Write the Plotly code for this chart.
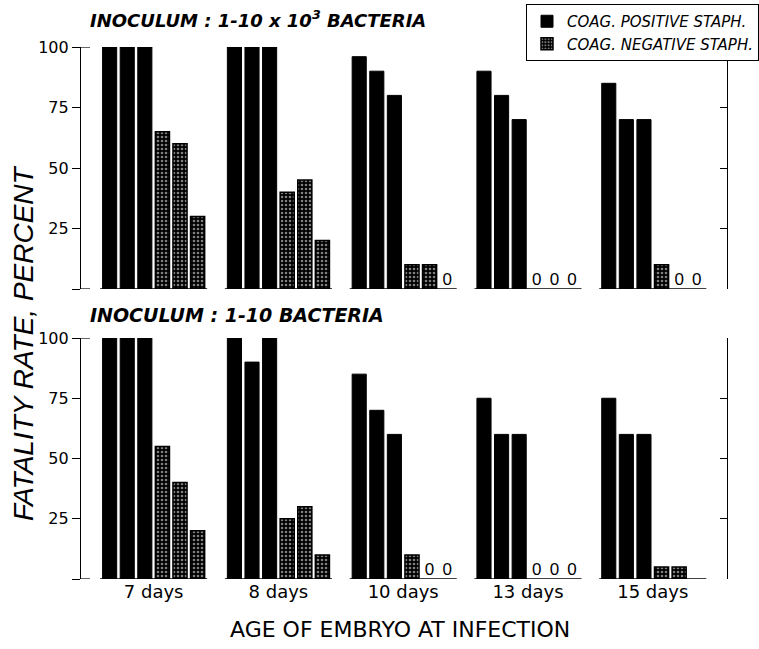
import plotly.graph_objects as go

# ---- data ----
groups = ["7 days", "8 days", "10 days", "13 days", "15 days"]
top_pos = [[100, 100, 100], [100, 100, 100], [96, 90, 80], [90, 80, 70], [85, 70, 70]]
top_neg = [[65, 60, 30], [40, 45, 20], [10, 10, 0], [0, 0, 0], [10, 0, 0]]
bot_pos = [[100, 100, 100], [100, 90, 100], [85, 70, 60], [75, 60, 60], [75, 60, 60]]
bot_neg = [[55, 40, 20], [25, 30, 10], [10, 0, 0], [0, 0, 0], [5, 5, None]]
y_ticks = [0, 25, 50, 75, 100]
y_ticklabels = ["", "25", "50", "75", "100"]
title_top = "INOCULUM : 1-10 x 10<sup>3</sup> BACTERIA"
title_bot = "INOCULUM : 1-10 BACTERIA"
legend_names = ["COAG. POSITIVE STAPH.", "COAG. NEGATIVE STAPH."]
x_title = "AGE OF EMBRYO AT INFECTION"
y_title = "FATALITY RATE, PERCENT"

SLOT = 0.141
BARW = 0.113
FONT = "DejaVu Sans"
FONT2 = "Liberation Sans"

def slot_x(g, j):
    return g + (j - 2.5) * SLOT

fig = go.Figure()

def add_panel(pos, neg, xa, ya, showlegend):
    px, py, nx, ny, zx = [], [], [], [], []
    for g in range(len(groups)):
        for j, v in enumerate(pos[g]):
            px.append(slot_x(g, j)); py.append(v)
        for j, v in enumerate(neg[g]):
            if v is None:
                continue
            if v == 0:
                zx.append(slot_x(g, j + 3))
            else:
                nx.append(slot_x(g, j + 3)); ny.append(v)
    fig.add_trace(go.Bar(x=px, y=py, width=BARW, name=legend_names[0],
                         marker=dict(color="black", line=dict(color="black", width=1)),
                         xaxis=xa, yaxis=ya, showlegend=showlegend, legendgroup="p"))
    fig.add_trace(go.Bar(x=nx, y=ny, width=BARW, name=legend_names[1],
                         marker=dict(color="black", line=dict(color="black", width=1.5),
                                     pattern=dict(shape=".", fgcolor="white", bgcolor="black",
                                                  size=4, solidity=0.35)),
                         xaxis=xa, yaxis=ya, showlegend=showlegend, legendgroup="n"))
    fig.add_trace(go.Scatter(x=zx, y=[0] * len(zx), mode="text", text=["0"] * len(zx),
                             textposition="top center", textfont=dict(family=FONT2, size=17, color="black"),
                             xaxis=xa, yaxis=ya, showlegend=False, cliponaxis=False, hoverinfo="skip"))
    for g in range(len(groups)):
        fig.add_shape(type="line", xref=xa, yref=ya,
                      x0=slot_x(g, 0) - BARW / 2 - 0.02, x1=slot_x(g, 5) + BARW / 2 + 0.02,
                      y0=0, y1=0, line=dict(color="black", width=1.5))

add_panel(top_pos, top_neg, "x", "y", True)
add_panel(bot_pos, bot_neg, "x2", "y2", False)

XR = [-0.59, 4.595]
XD = [80 / 759, 727 / 759]
H = 649
W = 759
top_dom = [1 - 289 / H, 1 - 47 / H]
bot_dom = [1 - 579 / H, 1 - 338 / H]

xcommon = dict(range=XR, domain=XD, showline=False, zeroline=False, showgrid=False,
               automargin=False)
ycommon = dict(range=[0, 100], showgrid=False, zeroline=False, showline=True, linecolor="black",
               linewidth=1.2, ticks="outside", ticklen=8, tickcolor="black", tickwidth=1.2,
               tickvals=y_ticks, ticktext=y_ticklabels, automargin=False,
               tickfont=dict(family=FONT, size=16, color="black"))
rcommon = dict(range=[0, 100], showgrid=False, zeroline=False, showline=True, linecolor="black",
               linewidth=1, ticks="inside", ticklen=7, tickcolor="black", tickvals=y_ticks,
               showticklabels=False, side="right", automargin=False)

fig.update_layout(
    width=W, height=H,
    margin=dict(l=0, r=0, t=0, b=0),
    paper_bgcolor="white", plot_bgcolor="rgba(0,0,0,0)",
    barmode="overlay",
    xaxis=dict(**xcommon, anchor="y", showticklabels=False, ticks=""),
    yaxis=dict(**ycommon, domain=top_dom, anchor="free", position=XD[0]),
    xaxis2=dict(**xcommon, anchor="y2", tickvals=list(range(len(groups))), ticktext=groups,
                ticks="", ticklen=0, tickfont=dict(family=FONT, size=18, color="black")),
    yaxis2=dict(**ycommon, domain=bot_dom, anchor="free", position=XD[0]),
    yaxis3=dict(**rcommon, overlaying="y", anchor="free", position=XD[1]),
    yaxis4=dict(**rcommon, overlaying="y2", anchor="free", position=XD[1]),
    legend=dict(x=1.0, y=1 - 4 / H, xanchor="right", yanchor="top", bordercolor="black", borderwidth=1,
                bgcolor="white", font=dict(family=FONT, size=15, style="italic", color="black"),
                tracegroupgap=0, itemwidth=30),
    showlegend=True,
)
fig.add_trace(go.Scatter(x=[None], y=[None], yaxis="y3", xaxis="x", showlegend=False))
fig.add_trace(go.Scatter(x=[None], y=[None], yaxis="y4", xaxis="x2", showlegend=False))

for ya in ["y", "y2"]:
    for v in [0, 100]:
        fig.add_shape(type="line", xref="paper", yref=ya, x0=XD[0], x1=XD[0] + 10 / W,
                      y0=v, y1=v, line=dict(color="black", width=1.2))

fig.add_annotation(text="<b><i>" + title_top + "</i></b>", xref="paper", yref="paper",
                   x=88 / W, y=1 - 19 / H, xanchor="left", yanchor="middle", showarrow=False,
                   font=dict(family=FONT, size=18, color="black"))
fig.add_annotation(text="<b><i>" + title_bot + "</i></b>", xref="paper", yref="paper",
                   x=88 / W, y=1 - 315 / H, xanchor="left", yanchor="middle", showarrow=False,
                   font=dict(family=FONT, size=19, color="black"))
fig.add_annotation(text="<i>" + y_title + "</i>", xref="paper", yref="paper",
                   x=23 / W, y=1 - 343 / H, xanchor="center", yanchor="middle", showarrow=False,
                   textangle=-90, font=dict(family=FONT2, size=28, color="black"))
fig.add_annotation(text=x_title, xref="paper", yref="paper",
                   x=400 / W, y=1 - 629 / H, xanchor="center", yanchor="middle", showarrow=False,
                   font=dict(family=FONT, size=22, color="black"))

fig.write_html("out.html", config={"displayModeBar": False},
               post_script="document.body.style.margin='0';document.body.style.overflow='hidden';")
